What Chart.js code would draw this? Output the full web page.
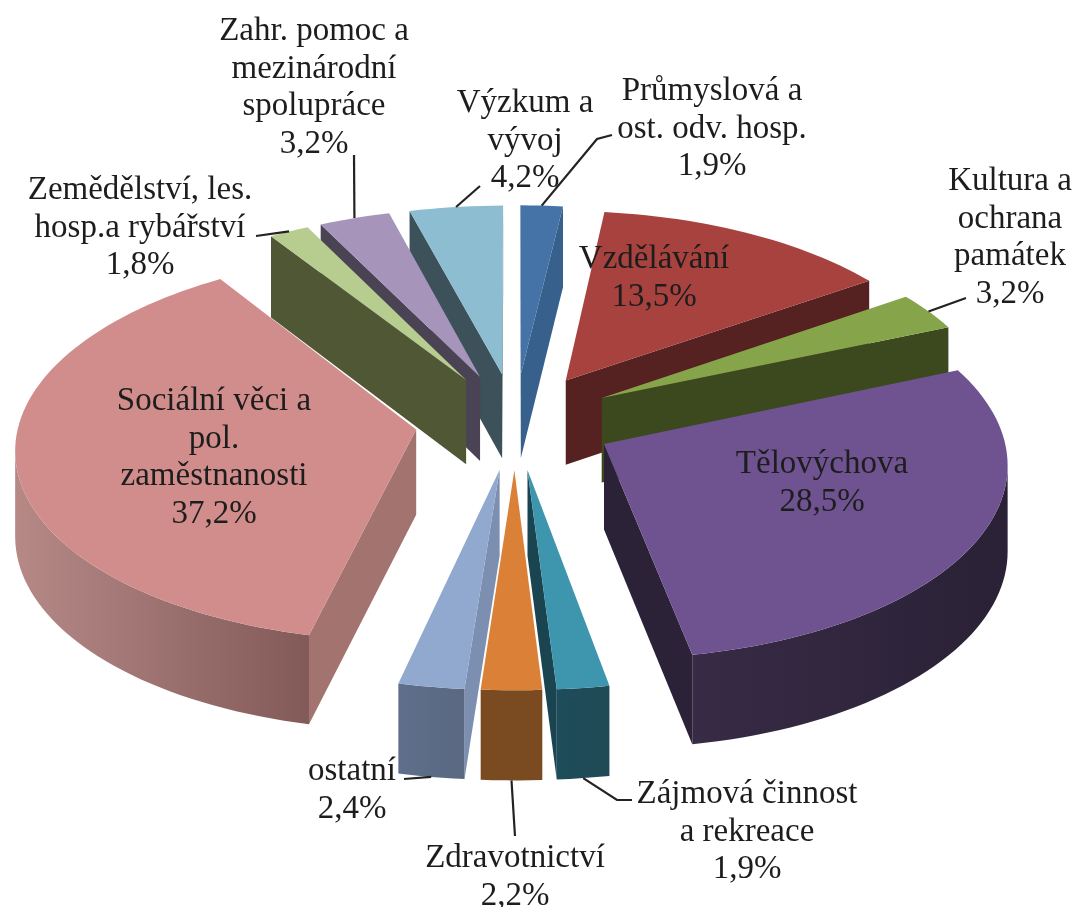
<!DOCTYPE html>
<html lang="cs">
<head>
<meta charset="utf-8">
<title>Výdaje podle odvětví</title>
<script src="https://cdn.jsdelivr.net/npm/chart.js@4/dist/chart.umd.min.js"></script>
<style>
  html, body { margin: 0; background: #fff; }
  canvas { display: block; filter: blur(0.7px); }
</style>
</head>
<body>
<canvas id="pie" width="1078" height="907"></canvas>
<script>
/* clockwise from 12 o'clock, same order as the source chart */
const categories = [
  'Průmyslová a ost. odv. hosp.', 'Vzdělávání', 'Kultura a ochrana památek', 'Tělovýchova',
  'Zájmová činnost a rekreace', 'Zdravotnictví', 'ostatní', 'Sociální věci a pol. zaměstnanosti',
  'Zemědělství, les. hosp.a rybářství', 'Zahr. pomoc a mezinárodní spolupráce', 'Výzkum a vývoj'
];
const shares = [1.9, 13.5, 3.2, 28.5, 1.9, 2.2, 2.4, 37.2, 1.8, 3.2, 4.2];
const labelLines = [
  ['Průmyslová a', 'ost. odv. hosp.'], ['Vzdělávání'], ['Kultura a', 'ochrana', 'památek'], ['Tělovýchova'],
  ['Zájmová činnost', 'a rekreace'], ['Zdravotnictví'], ['ostatní'], ['Sociální věci a', 'pol.', 'zaměstnanosti'],
  ['Zemědělství, les.', 'hosp.a rybářství'], ['Zahr. pomoc a', 'mezinárodní', 'spolupráce'], ['Výzkum a', 'vývoj']
];

const topColors = ['#4573a7', '#a8423f', '#86a44a', '#6f5391', '#3d96ae', '#da8137', '#92a9cf', '#d18d8b', '#b7cd8f', '#a794bb', '#8dbdd0'];
const sideColors = ['#37608c', '#562121', '#3c481d', '#2c2238', '#1a4550', '#7a4a20', '#7c8fb0', '#a3736f', '#4f5735', '#4a4354', '#3c5159'];
const rimColors = [
  ['#37608c', '#37608c'], ['#562121', '#562121'], ['#3c481d', '#3c481d'], ['#372b45', '#2a2136'],
  ['#1f4c5a', '#1f4a56'], ['#7a4a20', '#7a4a20'], ['#5f6f8b', '#5a6880'], ['#b68987', '#825a58'],
  ['#4f5735', '#4f5735'], ['#4a4354', '#4a4354'], ['#3c5159', '#3c5159']
];

// label centre x, first line baseline y, and where its leader line goes (none when the label sits on the slice)
const labelPlaces = [
  { x: 712, y: 100, leader: [[597, 139], [612, 135]] },
  { x: 654, y: 268 },
  { x: 1010, y: 190, leader: [[966, 298]] },
  { x: 822, y: 473 },
  { x: 747, y: 803, leader: [[617, 800], [632, 800]] },
  { x: 515, y: 867, leader: [[515, 836]] },
  { x: 352, y: 780, leader: [[404, 779]] },
  { x: 214, y: 410 },
  { x: 140, y: 199, leader: [[256, 236]] },
  { x: 314, y: 40, leader: [[354, 155]] },
  { x: 525, y: 112, leader: [[480, 186]] }
];

const TILT = 0.482, VANISH = 4500, DEPTH = 85, LINE_HEIGHT = 37.5;

// world point (centre-relative, y towards the viewer) to canvas, z drops it down the wall
function project(arc, wx, wy, z) {
  const s = 1 / (1 - wy / VANISH);
  return { x: arc.x + wx * s, y: arc.y + TILT * wy * s + z * Math.sqrt(s) };
}

function slicePoints(arc, offset, z) {
  const mid = (arc.startAngle + arc.endAngle) / 2;
  const ox = Math.cos(mid) * offset, oy = Math.sin(mid) * offset;
  const rim = [];
  const steps = Math.max(4, Math.ceil((arc.endAngle - arc.startAngle) / 0.03));
  for (let i = 0; i <= steps; i++) {
    const a = arc.startAngle + (arc.endAngle - arc.startAngle) * i / steps;
    rim.push(project(arc, ox + Math.cos(a) * arc.outerRadius, oy + Math.sin(a) * arc.outerRadius, z));
  }
  return { tip: project(arc, ox, oy, z), rim };
}

function fillPath(ctx, pts, fill) {
  ctx.beginPath();
  pts.forEach((p, i) => (i ? ctx.lineTo(p.x, p.y) : ctx.moveTo(p.x, p.y)));
  ctx.closePath();
  ctx.fillStyle = fill;
  ctx.fill();
}

function drawSlice(ctx, arc, i) {
  const offset = arc.options.offset;
  const up = slicePoints(arc, offset, 0);
  const down = slicePoints(arc, offset, DEPTH);
  const last = up.rim.length - 1;

  // a wall shows only when its top edge runs right to left on screen
  if (up.tip.x > up.rim[0].x) fillPath(ctx, [up.tip, up.rim[0], down.rim[0], down.tip], sideColors[i]);
  if (up.rim[last].x > up.tip.x) fillPath(ctx, [up.rim[last], up.tip, down.tip, down.rim[last]], sideColors[i]);

  const shown = [];
  for (let k = 0; k <= last; k++) {
    const leftward = (k < last && up.rim[k].x > up.rim[k + 1].x) || (k > 0 && up.rim[k - 1].x > up.rim[k].x);
    if (leftward) shown.push(k);
  }
  if (shown.length > 1) {
    const xs = shown.map((k) => up.rim[k].x);
    const grad = ctx.createLinearGradient(Math.min(...xs), 0, Math.max(...xs), 0);
    grad.addColorStop(0, rimColors[i][0]);
    grad.addColorStop(1, rimColors[i][1]);
    fillPath(ctx, [...shown.map((k) => up.rim[k]), ...shown.slice().reverse().map((k) => down.rim[k])], grad);
  }
  fillPath(ctx, [up.tip, ...up.rim], topColors[i]);
}

const pie3d = {
  id: 'pie3d',
  beforeDatasetDraw(chart, args) {
    const ctx = chart.ctx;
    const arcs = args.meta.data.map((arc, i) => ({ arc, i }));
    // back to front
    arcs.sort((a, b) => Math.sin((a.arc.startAngle + a.arc.endAngle) / 2) - Math.sin((b.arc.startAngle + b.arc.endAngle) / 2));
    arcs.forEach(({ arc, i }) => drawSlice(ctx, arc, i));
    return false;
  },
  afterDraw(chart) {
    const ctx = chart.ctx;
    const arcs = chart.getDatasetMeta(0).data;
    ctx.save();
    ctx.strokeStyle = '#222';
    ctx.lineWidth = 2.2;
    arcs.forEach((arc, i) => {
      const place = labelPlaces[i];
      if (!place.leader) return;
      const mid = (arc.startAngle + arc.endAngle) / 2;
      const r = arc.options.offset + arc.outerRadius;
      const from = project(arc, Math.cos(mid) * r, Math.sin(mid) * r, Math.sin(mid) > 0 ? DEPTH : 0);
      ctx.beginPath();
      ctx.moveTo(from.x, from.y);
      place.leader.forEach((p) => ctx.lineTo(p[0], p[1]));
      ctx.stroke();
    });
    ctx.fillStyle = '#1d1d1d';
    ctx.font = '33px "Liberation Serif", serif';
    ctx.textAlign = 'center';
    ctx.textBaseline = 'alphabetic';
    labelLines.forEach((lines, i) => {
      const place = labelPlaces[i];
      [...lines, shares[i].toFixed(1).replace('.', ',') + '%'].forEach((line, n) => {
        ctx.fillText(line, place.x, place.y + n * LINE_HEIGHT);
      });
    });
    ctx.restore();
  }
};

new Chart(document.getElementById('pie'), {
  type: 'pie',
  data: {
    labels: categories,
    datasets: [{ data: shares, backgroundColor: topColors, borderWidth: 0, offset: 100 }]
  },
  options: {
    responsive: false,
    animation: false,
    radius: 397,
    layout: { padding: { right: 48, bottom: 65 } },
    plugins: { legend: { display: false }, tooltip: { enabled: false } }
  },
  plugins: [pie3d]
});
</script>
</body>
</html>
